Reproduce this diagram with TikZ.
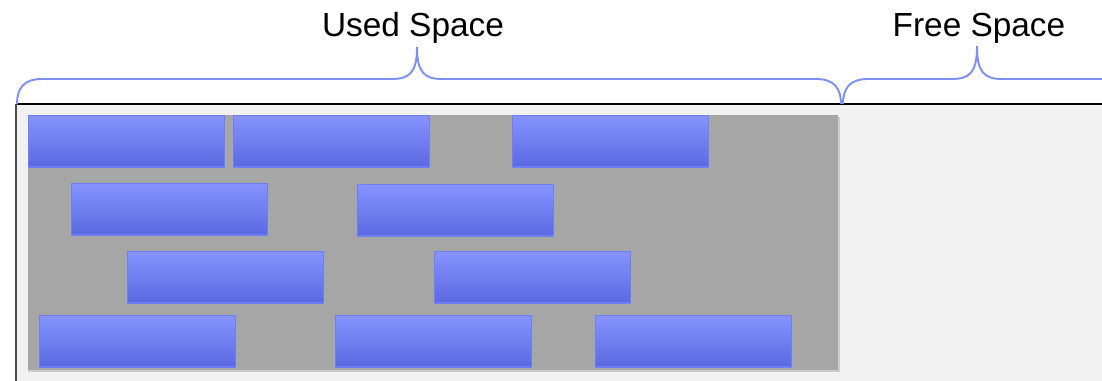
\documentclass[tikz,border=0pt]{standalone}
\usepackage{fontspec}
\setmainfont{Liberation Sans}
\usepackage{tikz}
\usetikzlibrary{positioning, calc}
\usepackage{xcolor}
\definecolor{brc}{HTML}{7F8FF5}
\definecolor{pane}{HTML}{F1F1F1}
\definecolor{used}{HTML}{A6A6A6}
\definecolor{blktop}{HTML}{8693FF}
\definecolor{blkbot}{HTML}{5A69E0}
\definecolor{blkrim}{HTML}{6F7FF2}

\begin{document}
\begin{tikzpicture}[
        x=0.02cm, y=-0.02cm,
        font=\fontsize{19}{22}\selectfont,
        blk/.style={rectangle, draw=blkrim, line width=0.6pt,
                    top color=blktop, bottom color=blkbot,
                    minimum width=3.92cm, minimum height=1.03cm,
                    anchor=north west, inner sep=0pt},
        brace/.style={brc, line width=1.1pt},
        lbl/.style={inner sep=0pt, anchor=base},
      ]
      \useasboundingbox (0,0) rectangle (1102,381);
      \clip (0,0) rectangle (1102,381);

      % Memory pane (runs off the right and bottom)
      \fill[pane] (16,104) rectangle (1110,390);
      \draw[black, line width=0.7pt] (16,104) -- (1110,104);
      \draw[black!70, line width=1pt] (16,104) -- (16,390);

      % Used region
      \fill[black!20] (28,117) rectangle (840,372);
      \fill[used] (28,115) rectangle (838,370);

      % Allocated blocks, row by row
      \node[blk] (b11) at (28,115) {};
      \node[blk] (b12) at (233,115) {};
      \node[blk] (b13) at (512,115) {};

      \node[blk] (b21) at (71,183) {};
      \node[blk] (b22) at (357,184) {};

      \node[blk] (b31) at (127,251) {};
      \node[blk] (b32) at (434,251) {};

      \node[blk] (b41) at (39,315) {};
      \node[blk] (b42) at (335,315) {};
      \node[blk] (b43) at (595,315) {};

      % Braces
      \draw[brace] (17,104) .. controls (17,88) and (24,79) .. (42,79)
        -- (392,79) .. controls (410,79) and (417,72) .. (417,47)
        .. controls (417,72) and (424,79) .. (442,79)
        -- (816,79) .. controls (834,79) and (841,88) .. (841,104);
      \draw[brace] (843,104) .. controls (843,88) and (850,79) .. (868,79)
        -- (952,79) .. controls (970,79) and (977,72) .. (977,46)
        .. controls (977,72) and (984,79) .. (1002,79)
        -- (1110,79);

      % Labels
      \node[lbl] (usedlbl) at (413,37) {Used Space};
      \node[lbl] (freelbl) at (979,37) {Free Space};
      \end{tikzpicture}
\end{document}
